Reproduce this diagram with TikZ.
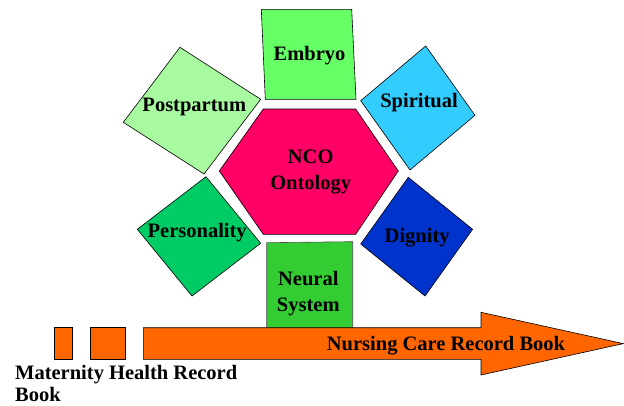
\documentclass[tikz,border=0pt]{standalone}
\usepackage{fontspec}
\setmainfont{Liberation Serif}
\begin{document}
\begin{tikzpicture}[x=1pt,y=-1pt,
  tile/.style={draw=black, line width=0.6pt, line join=miter},
  lbl/.style={font=\fontsize{20.5}{25.5}\selectfont\bfseries, inner sep=0pt, anchor=base, align=center}]
\definecolor{embryoC}{HTML}{66FF66}
\definecolor{postC}{HTML}{A8FAA0}
\definecolor{spiritC}{HTML}{33CCFF}
\definecolor{ncoC}{HTML}{FF0066}
\definecolor{persC}{HTML}{00CC66}
\definecolor{dignC}{HTML}{0033CC}
\definecolor{neuralC}{HTML}{33CC33}
\definecolor{bookC}{HTML}{FF6600}
\useasboundingbox (0,0) rectangle (624,405);

% ring of tiles round the central hexagon
\draw[tile, fill=embryoC] (261.3,9.3) -- (351.7,9.3) -- (356,99.3) -- (265.3,99.3) -- cycle;
\draw[tile, fill=postC] (180,47.3) -- (260.7,99.3) -- (204,174) -- (123.3,122.3) -- cycle;
\draw[tile, fill=spiritC] (425.7,46) -- (475,115.3) -- (410,170) -- (360.7,100.7) -- cycle;
\draw[tile, fill=ncoC] (263.3,109) -- (355.7,109) -- (398.3,171) -- (355.7,234.3) -- (263.3,234.3) -- (219.3,171) -- cycle;
\draw[tile, fill=persC] (206,176.7) -- (260.7,243.3) -- (192,296) -- (137.3,229.3) -- cycle;
\draw[tile, fill=dignC] (408.3,177.3) -- (472.6,229.3) -- (425,296) -- (360.7,244) -- cycle;
\draw[tile, fill=neuralC, draw=black!70] (266.7,242.7) -- (352.7,241.7) -- (352.7,335) -- (266.7,335) -- cycle;

% record books: two short blocks and the long arrow
\draw[tile, fill=bookC] (54.3,327.7) rectangle (72.3,359.3);
\draw[tile, fill=bookC] (90,327.7) rectangle (125.7,359.3);
\draw[tile, fill=bookC] (143.3,327.7) -- (481,327.7) -- (481,312.3) -- (623.3,343.6)
  -- (481,375) -- (481,359.3) -- (143.3,359.3) -- cycle;

% labels (multi-line ones are placed by the baseline of their last line)
\node[lbl] (embryo) at (309.5,60) {Embryo};
\node[lbl] (postpartum) at (194.3,111.7) {Postpartum};
\node[lbl] (spiritual) at (419,107.5) {Spiritual};
\node[lbl] (nco) at (310.7,189.3) {NCO\\Ontology};
\node[lbl] (personality) at (197.2,237.3) {Personality};
\node[lbl] (dignity) at (417.2,242.7) {Dignity};
\node[lbl] (neural) at (308.3,311) {Neural\\System};
\node[lbl] (nursing) at (446,350) {Nursing Care Record Book};
\node[lbl, anchor=base west, align=left, font=\fontsize{20.5}{22}\selectfont\bfseries] (maternity) at (15,401.7) {Maternity Health Record\\Book};
\end{tikzpicture}
\end{document}
